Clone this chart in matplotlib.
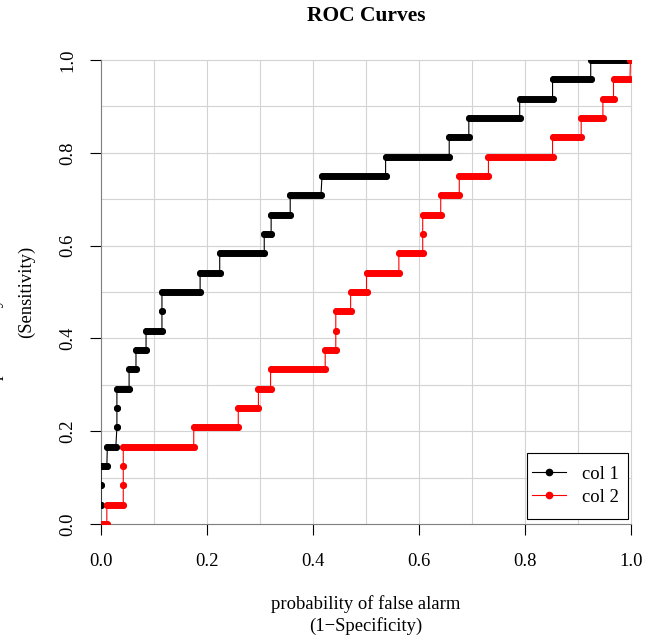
import matplotlib
matplotlib.use('Agg')
import matplotlib.pyplot as plt
from matplotlib.lines import Line2D
from matplotlib.patches import Rectangle

plt.rcParams['font.family'] = ['Liberation Serif', 'DejaVu Serif']

# hit rate (sensitivity) levels of each curve and the false alarm range covered by each level
hit_col1 = [0.042, 0.083, 0.125, 0.167, 0.208, 0.250, 0.292, 0.333, 0.375, 0.417, 0.458, 0.500,
            0.542, 0.583, 0.625, 0.667, 0.708, 0.750, 0.792, 0.833, 0.875, 0.917, 0.958, 1.000]
far_lo_col1 = [0.000, 0.000, 0.000, 0.012, 0.030, 0.030, 0.030, 0.053, 0.066, 0.085, 0.115, 0.115,
               0.187, 0.224, 0.308, 0.321, 0.357, 0.417, 0.537, 0.657, 0.694, 0.790, 0.852, 0.924]
far_hi_col1 = [0.000, 0.000, 0.011, 0.028, 0.030, 0.030, 0.053, 0.066, 0.085, 0.115, 0.115, 0.187,
               0.224, 0.308, 0.321, 0.357, 0.415, 0.537, 0.657, 0.694, 0.790, 0.852, 0.924, 1.000]

hit_col2 = [0.000, 0.042, 0.083, 0.125, 0.167, 0.208, 0.250, 0.292, 0.333, 0.375, 0.417, 0.458, 0.500,
            0.542, 0.583, 0.625, 0.667, 0.708, 0.750, 0.792, 0.833, 0.875, 0.917, 0.958, 1.000]
far_lo_col2 = [0.000, 0.011, 0.042, 0.042, 0.042, 0.175, 0.259, 0.297, 0.320, 0.423, 0.443, 0.443, 0.471,
               0.501, 0.562, 0.607, 0.607, 0.641, 0.676, 0.731, 0.852, 0.906, 0.947, 0.967, 0.999]
far_hi_col2 = [0.011, 0.042, 0.042, 0.042, 0.175, 0.259, 0.297, 0.320, 0.423, 0.443, 0.443, 0.471, 0.501,
               0.562, 0.607, 0.607, 0.641, 0.676, 0.731, 0.852, 0.906, 0.947, 0.967, 0.998, 1.000]

ticks = [0.0, 0.2, 0.4, 0.6, 0.8, 1.0]
tick_labels = ['0.0', '0.2', '0.4', '0.6', '0.8', '1.0']
grid_pos = [0.0, 0.1, 0.2, 0.3, 0.4, 0.5, 0.6, 0.7, 0.8, 0.9, 1.0]

W, H = 665, 642
fig = plt.figure(figsize=(W / 100, H / 100), dpi=100)
ax = fig.add_axes([101 / W, 1 - 524 / H, 530 / W, 464 / H])
ax.set_xlim(0, 1)
ax.set_ylim(0, 1)

# light grey grid every 0.1
for g in grid_pos:
    ax.axvline(g, color='#d3d3d3', lw=0.8, zorder=1, clip_on=False)
    ax.axhline(g, color='#d3d3d3', lw=0.8, zorder=1, clip_on=False)


def draw_roc(far_lo, far_hi, hit, color):
    xs, ys = [], []
    for lo, hi, h in zip(far_lo, far_hi, hit):
        xs += [lo, hi]
        ys += [h, h]
    ax.plot(xs, ys, color=color, lw=0.8, zorder=3)
    ax.hlines(hit, far_lo, far_hi, colors=color, lw=5, capstyle='round', zorder=4)
    ax.scatter(far_lo + far_hi, hit + hit, s=25, color=color, lw=0, zorder=4)


draw_roc(far_lo_col1, far_hi_col1, hit_col1, 'black')
draw_roc(far_lo_col2, far_hi_col2, hit_col2, 'red')

for side in ['top', 'right']:
    ax.spines[side].set_visible(False)
for side in ['left', 'bottom']:
    ax.spines[side].set_color('#808080')
    ax.spines[side].set_linewidth(0.8)
    ax.spines[side].set_zorder(2)

ax.set_xticks(ticks)
ax.set_xticklabels(tick_labels)
ax.set_yticks(ticks)
ax.set_yticklabels(tick_labels, rotation=90, va='center')
ax.tick_params(axis='both', direction='out', length=8, width=0.8, color='black', labelsize=13.4)
ax.tick_params(axis='x', pad=13)
ax.tick_params(axis='y', pad=10)

# legend box drawn by hand, entries placed inside it
ax.add_patch(Rectangle((0.803, 0.011), 0.191, 0.143, transform=ax.transAxes, facecolor='white',
                       edgecolor='black', lw=0.8, zorder=5))
handles = [Line2D([], [], color='black', marker='o', markersize=4.5, lw=0.8),
           Line2D([], [], color='red', marker='o', markersize=4.5, lw=0.8)]
leg = ax.legend(handles, ['col 1', 'col 2'], loc='center left', bbox_to_anchor=(0.8126, 0.0825),
                borderaxespad=0, borderpad=0, fontsize=13.4, handlelength=1.83, handletextpad=0.9,
                labelspacing=0.31, frameon=False)
leg.set_zorder(6)

fig.text(366 / W, 1 - 16 / H, 'ROC Curves', ha='center', va='center', fontsize=15.5, fontweight='bold')
fig.text(366 / W, 1 - 604 / H, 'probability of false alarm', ha='center', va='center', fontsize=13.4)
fig.text(366 / W, 1 - 626 / H, '(1\u2212Specificity)', ha='center', va='center', fontsize=13.4)
fig.text(26 / W, 1 - 292 / H, '(Sensitivity)', ha='center', va='center', rotation=90, fontsize=13.4)
fig.text(0.5 / W, 1 - 292 / H, 'probability of detection', ha='center', va='baseline',
         rotation=90, rotation_mode='anchor', fontsize=13.4)

fig.savefig('out.png', dpi=100)
